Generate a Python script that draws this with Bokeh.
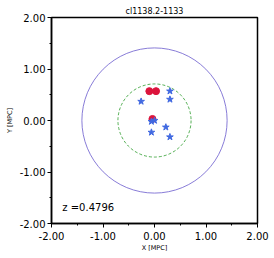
from bokeh.plotting import figure
from bokeh.models import SingleIntervalTicker, PrintfTickFormatter, Range1d, Label
from bokeh.embed import file_html
from bokeh.resources import INLINE

title_text = "cl1138.2-1133"
redshift_label = "z =0.4796"
red_x = [-0.10, 0.03, -0.04]
red_y = [0.57, 0.57, 0.03]
star_x = [0.30, 0.30, -0.26, -0.06, 0.00, -0.06, 0.22, 0.30]
star_y = [0.57, 0.41, 0.37, -0.02, 0.00, -0.23, -0.13, -0.32]
outer_radius = [1.41]
inner_radius = [0.71]

FONT = "DejaVu Sans"

p = figure(width=274, height=258, output_backend="svg", toolbar_location=None,
           x_range=Range1d(-2, 2), y_range=Range1d(-2, 2),
           min_border_left=51, min_border_right=17, min_border_top=17, min_border_bottom=35)
p.title.text = title_text
p.title.align = "center"
p.title.text_font = FONT
p.title.text_font_size = "8px"
p.title.text_font_style = "normal"
p.title.text_color = "black"
p.title.standoff = 3
p.title.offset = 0

p.xgrid.visible = False
p.ygrid.visible = False
p.outline_line_color = "black"
p.outline_line_width = 1.5

for ax, lab in ((p.xaxis[0], "X [MPC]"), (p.yaxis[0], "Y [MPC]")):
    ax.ticker = SingleIntervalTicker(interval=1, num_minor_ticks=2)
    ax.formatter = PrintfTickFormatter(format="%.2f")
    ax.axis_label = lab
    ax.axis_label_text_font = FONT
    ax.axis_label_text_font_size = "6.5px"
    ax.axis_label_text_font_style = "normal"
    ax.axis_label_text_color = "black"
    ax.major_label_text_font = FONT
    ax.major_label_text_font_size = "10px"
    ax.major_label_text_color = "black"
    ax.major_tick_out = 4
    ax.major_tick_in = 0
    ax.minor_tick_out = 2
    ax.minor_tick_in = 0
    ax.major_tick_line_color = "black"
    ax.minor_tick_line_color = "black"
    ax.axis_line_color = "black"
    ax.axis_line_width = 1.5
p.xaxis.major_label_standoff = 4
p.xaxis.axis_label_standoff = 1
p.yaxis.major_label_standoff = 2
p.yaxis.axis_label_standoff = 3

p.circle(x=[0], y=[0], radius=outer_radius[0], fill_alpha=0, line_color="#6a5acd", line_width=0.8)
p.circle(x=[0], y=[0], radius=inner_radius[0], fill_alpha=0, line_color="#2a9a2a",
         line_width=0.8, line_dash="3 2")
p.scatter(x=red_x, y=red_y, size=7, marker="circle", fill_color="#dc143c", line_color="#dc143c")
p.scatter(x=star_x, y=star_y, size=7, marker="star", fill_color="#4169e1", line_color="#4169e1")

p.add_layout(Label(x=-1.79, y=-1.79, text=redshift_label, text_font=FONT,
                   text_font_size="10px", text_color="black"))

open("out.html", "w").write(file_html(p, INLINE))
